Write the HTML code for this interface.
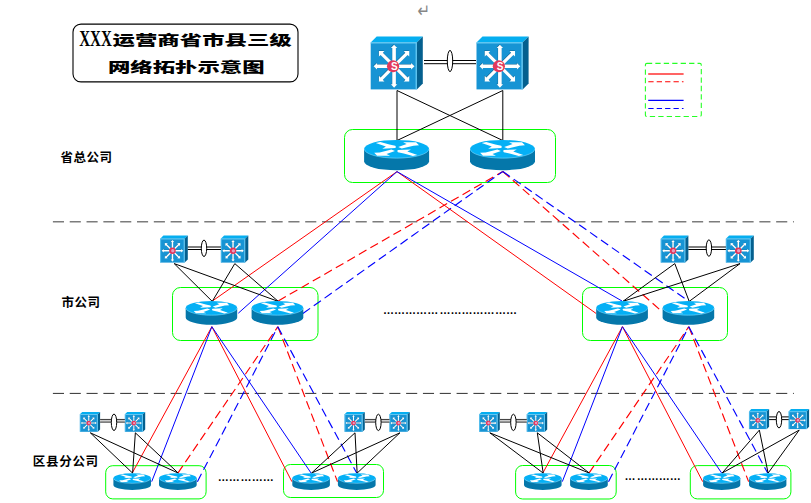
<!DOCTYPE html>
<html lang="zh">
<head>
<meta charset="utf-8">
<title>XXX运营商省市县三级网络拓扑示意图</title>
<style>
html,body{margin:0;padding:0;background:#fff;}
body{width:811px;height:503px;overflow:hidden;}
svg{display:block;}
</style>
</head>
<body>
<svg width="811" height="503" viewBox="0 0 811 503">
<rect width="811" height="503" fill="#fff"/>
<line x1="52.9" y1="221.8" x2="793.9" y2="221.8" stroke="#7c7c7c" stroke-width="1.6" stroke-dasharray="11.1 5.72"/>
<line x1="52.9" y1="393.4" x2="793.9" y2="393.4" stroke="#303030" stroke-width="1" stroke-dasharray="11.1 5.72"/>
<rect x="645.4" y="63.4" width="55.9" height="53.1" rx="1.5" fill="none" stroke="#00ff00" stroke-opacity="0.85" stroke-width="1.1" stroke-dasharray="5.3 3.14"/>
<line x1="648.2" y1="74" x2="683.6" y2="74" stroke="#ff6464" stroke-width="2"/>
<line x1="648.3" y1="81.7" x2="683.5" y2="81.7" stroke="#ff0000" stroke-width="1.1" stroke-dasharray="5.3 3.1"/>
<line x1="648.2" y1="100.4" x2="683.6" y2="100.4" stroke="#0000ff" stroke-width="1.1"/>
<line x1="648.3" y1="108.5" x2="683.5" y2="108.5" stroke="#0000ff" stroke-width="1.1" stroke-dasharray="5.3 3.1"/>
<rect x="73" y="24.1" width="225" height="57.8" rx="8" ry="8" fill="#fff" stroke="#000" stroke-width="1.1"/>
<rect x="344.5" y="129.5" width="211.0" height="53.0" rx="8" ry="8" fill="none" stroke="#00ff00" stroke-width="1"/>
<rect x="172.5" y="287.5" width="145.5" height="53.0" rx="8" ry="8" fill="none" stroke="#00ff00" stroke-width="1"/>
<rect x="582.5" y="287.5" width="145.0" height="53.0" rx="8" ry="8" fill="none" stroke="#00ff00" stroke-width="1"/>
<rect x="105.7" y="465.7" width="100.39999999999999" height="33.19999999999999" rx="7" ry="7" fill="none" stroke="#00ff00" stroke-width="1"/>
<rect x="283.5" y="464.5" width="100.0" height="33.0" rx="7" ry="7" fill="none" stroke="#00ff00" stroke-width="1"/>
<rect x="515.6" y="465.5" width="100.60000000000002" height="33.5" rx="7" ry="7" fill="none" stroke="#00ff00" stroke-width="1"/>
<rect x="690.3" y="465.6" width="100.60000000000002" height="33.299999999999955" rx="7" ry="7" fill="none" stroke="#00ff00" stroke-width="1"/>
<line x1="397" y1="171.6" x2="212.4" y2="301" stroke="#ff0000" stroke-width="1"/>
<line x1="397" y1="171.6" x2="238.3" y2="313.2" stroke="#0000ff" stroke-width="1"/>
<line x1="278.2" y1="301" x2="502.8" y2="171.5" stroke="#ff0000" stroke-width="1.15" stroke-dasharray="8.8 4.5"/>
<line x1="302.9" y1="313.5" x2="502.8" y2="171.5" stroke="#0000ff" stroke-width="1.15" stroke-dasharray="8.8 4.5"/>
<line x1="397" y1="171.6" x2="596.2" y2="313.5" stroke="#ff0000" stroke-width="1"/>
<line x1="397" y1="171.6" x2="622" y2="301" stroke="#0000ff" stroke-width="1"/>
<line x1="502.8" y1="171.5" x2="662.5" y2="312" stroke="#ff0000" stroke-width="1.15" stroke-dasharray="8.8 4.5"/>
<line x1="502.8" y1="171.5" x2="688.4" y2="301" stroke="#0000ff" stroke-width="1.15" stroke-dasharray="8.8 4.5"/>
<line x1="211.85" y1="326.7" x2="132.2" y2="473.1" stroke="#ff0000" stroke-width="1"/>
<line x1="211.85" y1="326.7" x2="151.7" y2="481.65" stroke="#0000ff" stroke-width="1"/>
<line x1="177.85" y1="473.1" x2="277.84999999999997" y2="326.7" stroke="#ff0000" stroke-width="1.15" stroke-dasharray="8.8 4.5"/>
<line x1="197.39999999999998" y1="481.65" x2="277.84999999999997" y2="326.7" stroke="#0000ff" stroke-width="1.15" stroke-dasharray="8.8 4.5"/>
<line x1="211.85" y1="326.7" x2="291.90000000000003" y2="481.65" stroke="#ff0000" stroke-width="1"/>
<line x1="211.85" y1="326.7" x2="311.1" y2="473.1" stroke="#0000ff" stroke-width="1"/>
<line x1="277.84999999999997" y1="326.7" x2="337.5" y2="481.65" stroke="#ff0000" stroke-width="1.15" stroke-dasharray="8.8 4.5"/>
<line x1="277.84999999999997" y1="326.7" x2="356.75" y2="473.1" stroke="#0000ff" stroke-width="1.15" stroke-dasharray="8.8 4.5"/>
<line x1="622.4499999999999" y1="326.7" x2="542.8" y2="473.1" stroke="#ff0000" stroke-width="1"/>
<line x1="622.4499999999999" y1="326.7" x2="562.3000000000001" y2="481.65" stroke="#0000ff" stroke-width="1"/>
<line x1="588.95" y1="473.1" x2="688.8000000000001" y2="326.7" stroke="#ff0000" stroke-width="1.15" stroke-dasharray="8.8 4.5"/>
<line x1="608.5" y1="481.65" x2="688.8000000000001" y2="326.7" stroke="#0000ff" stroke-width="1.15" stroke-dasharray="8.8 4.5"/>
<line x1="622.4499999999999" y1="326.7" x2="702.7" y2="481.65" stroke="#ff0000" stroke-width="1"/>
<line x1="622.4499999999999" y1="326.7" x2="721.7" y2="473.1" stroke="#0000ff" stroke-width="1"/>
<line x1="688.8000000000001" y1="326.7" x2="748.6" y2="481.65" stroke="#ff0000" stroke-width="1.15" stroke-dasharray="8.8 4.5"/>
<line x1="688.8000000000001" y1="326.7" x2="767.7" y2="473.1" stroke="#0000ff" stroke-width="1.15" stroke-dasharray="8.8 4.5"/>
<line x1="397" y1="90.5" x2="397" y2="140.5" stroke="#000" stroke-width="1"/>
<line x1="397" y1="90.5" x2="502.8" y2="140.5" stroke="#000" stroke-width="1"/>
<line x1="502.8" y1="90.5" x2="397" y2="140.5" stroke="#000" stroke-width="1"/>
<line x1="502.8" y1="90.5" x2="502.8" y2="140.5" stroke="#000" stroke-width="1"/>
<line x1="174.2" y1="263.6" x2="212.25" y2="301.4" stroke="#000" stroke-width="1"/>
<line x1="174.2" y1="263.6" x2="278.25" y2="301.4" stroke="#000" stroke-width="1"/>
<line x1="234.8" y1="263.6" x2="212.25" y2="301.4" stroke="#000" stroke-width="1"/>
<line x1="234.8" y1="263.6" x2="278.25" y2="301.4" stroke="#000" stroke-width="1"/>
<line x1="674.8" y1="263.6" x2="622.8499999999999" y2="301.4" stroke="#000" stroke-width="1"/>
<line x1="674.8" y1="263.6" x2="689.2" y2="301.4" stroke="#000" stroke-width="1"/>
<line x1="740.05" y1="263.6" x2="622.8499999999999" y2="301.4" stroke="#000" stroke-width="1"/>
<line x1="740.05" y1="263.6" x2="689.2" y2="301.4" stroke="#000" stroke-width="1"/>
<line x1="90.3" y1="432.8" x2="132.6" y2="473.1" stroke="#000" stroke-width="1"/>
<line x1="90.3" y1="432.8" x2="178.25" y2="473.1" stroke="#000" stroke-width="1"/>
<line x1="135.35000000000002" y1="432.8" x2="132.6" y2="473.1" stroke="#000" stroke-width="1"/>
<line x1="135.35000000000002" y1="432.8" x2="178.25" y2="473.1" stroke="#000" stroke-width="1"/>
<line x1="355.00000000000006" y1="432.8" x2="311.5" y2="473.1" stroke="#000" stroke-width="1"/>
<line x1="355.00000000000006" y1="432.8" x2="357.15" y2="473.1" stroke="#000" stroke-width="1"/>
<line x1="399.95" y1="432.8" x2="311.5" y2="473.1" stroke="#000" stroke-width="1"/>
<line x1="399.95" y1="432.8" x2="357.15" y2="473.1" stroke="#000" stroke-width="1"/>
<line x1="489.8" y1="432.8" x2="543.1999999999999" y2="473.1" stroke="#000" stroke-width="1"/>
<line x1="489.8" y1="432.8" x2="589.35" y2="473.1" stroke="#000" stroke-width="1"/>
<line x1="537.3" y1="432.8" x2="543.1999999999999" y2="473.1" stroke="#000" stroke-width="1"/>
<line x1="537.3" y1="432.8" x2="589.35" y2="473.1" stroke="#000" stroke-width="1"/>
<line x1="759.3499999999999" y1="430.1" x2="722.1" y2="473.1" stroke="#000" stroke-width="1"/>
<line x1="759.3499999999999" y1="430.1" x2="768.1" y2="473.1" stroke="#000" stroke-width="1"/>
<line x1="799.2" y1="430.1" x2="722.1" y2="473.1" stroke="#000" stroke-width="1"/>
<line x1="799.2" y1="430.1" x2="768.1" y2="473.1" stroke="#000" stroke-width="1"/>
<polygon points="370.7,42.6 376.7,36.6 422.8,36.6 416.8,42.6" fill="#05aef0"/>
<polygon points="416.8,42.6 422.8,36.6 422.8,83.4 416.8,89.4" fill="#04608f"/>
<rect x="370.7" y="42.6" width="46.10000000000002" height="46.800000000000004" fill="#1794d4"/>
<path d="M370.7,42.9 H416.2 V89.4" fill="none" stroke="#66caf4" stroke-width="1.2"/>
<path d="M0,-1.80 H17.04 V-3.21 L20.44,0 L17.04,3.21 V1.80 H0 Z" fill="#0a3e5c" fill-opacity="0.55" transform="translate(393.72,65.73) rotate(0)"/>
<path d="M0,-1.60 H17.54 V-3.91 L21.45,0 L17.54,3.91 V1.60 H0 Z" fill="#0a3e5c" fill-opacity="0.55" transform="translate(393.72,65.73) rotate(45)"/>
<path d="M0,-1.80 H18.14 V-3.21 L21.55,0 L18.14,3.21 V1.80 H0 Z" fill="#0a3e5c" fill-opacity="0.55" transform="translate(393.72,65.73) rotate(90)"/>
<path d="M0,-1.60 H17.54 V-3.91 L21.45,0 L17.54,3.91 V1.60 H0 Z" fill="#0a3e5c" fill-opacity="0.55" transform="translate(393.72,65.73) rotate(135)"/>
<path d="M0,-1.80 H17.04 V-3.21 L20.44,0 L17.04,3.21 V1.80 H0 Z" fill="#0a3e5c" fill-opacity="0.55" transform="translate(393.72,65.73) rotate(180)"/>
<path d="M0,-1.60 H17.54 V-3.91 L21.45,0 L17.54,3.91 V1.60 H0 Z" fill="#0a3e5c" fill-opacity="0.55" transform="translate(393.72,65.73) rotate(225)"/>
<path d="M0,-1.80 H18.14 V-3.21 L21.55,0 L18.14,3.21 V1.80 H0 Z" fill="#0a3e5c" fill-opacity="0.55" transform="translate(393.72,65.73) rotate(270)"/>
<path d="M0,-1.60 H17.54 V-3.91 L21.45,0 L17.54,3.91 V1.60 H0 Z" fill="#0a3e5c" fill-opacity="0.55" transform="translate(393.72,65.73) rotate(315)"/>
<path d="M0,-1.80 H17.04 V-3.21 L20.44,0 L17.04,3.21 V1.80 H0 Z" fill="#fff" transform="translate(394.07,66.23) rotate(0)"/>
<path d="M0,-1.60 H17.54 V-3.91 L21.45,0 L17.54,3.91 V1.60 H0 Z" fill="#fff" transform="translate(394.07,66.23) rotate(45)"/>
<path d="M0,-1.80 H18.14 V-3.21 L21.55,0 L18.14,3.21 V1.80 H0 Z" fill="#fff" transform="translate(394.07,66.23) rotate(90)"/>
<path d="M0,-1.60 H17.54 V-3.91 L21.45,0 L17.54,3.91 V1.60 H0 Z" fill="#fff" transform="translate(394.07,66.23) rotate(135)"/>
<path d="M0,-1.80 H17.04 V-3.21 L20.44,0 L17.04,3.21 V1.80 H0 Z" fill="#fff" transform="translate(394.07,66.23) rotate(180)"/>
<path d="M0,-1.60 H17.54 V-3.91 L21.45,0 L17.54,3.91 V1.60 H0 Z" fill="#fff" transform="translate(394.07,66.23) rotate(225)"/>
<path d="M0,-1.80 H18.14 V-3.21 L21.55,0 L18.14,3.21 V1.80 H0 Z" fill="#fff" transform="translate(394.07,66.23) rotate(270)"/>
<path d="M0,-1.60 H17.54 V-3.91 L21.45,0 L17.54,3.91 V1.60 H0 Z" fill="#fff" transform="translate(394.07,66.23) rotate(315)"/>
<circle cx="393.07" cy="66.23" r="6.10" fill="#e2395c"/>
<text x="394.27" y="69.73" font-family="'Liberation Sans',sans-serif" font-weight="bold" font-size="10" fill="#fff" text-anchor="middle">S</text>
<polygon points="476.5,42.6 482.5,36.6 528.6,36.6 522.6,42.6" fill="#05aef0"/>
<polygon points="522.6,42.6 528.6,36.6 528.6,83.4 522.6,89.4" fill="#04608f"/>
<rect x="476.5" y="42.6" width="46.10000000000002" height="46.800000000000004" fill="#1794d4"/>
<path d="M476.5,42.9 H522.0 V89.4" fill="none" stroke="#66caf4" stroke-width="1.2"/>
<path d="M0,-1.80 H17.04 V-3.21 L20.44,0 L17.04,3.21 V1.80 H0 Z" fill="#0a3e5c" fill-opacity="0.55" transform="translate(499.52,65.73) rotate(0)"/>
<path d="M0,-1.60 H17.54 V-3.91 L21.45,0 L17.54,3.91 V1.60 H0 Z" fill="#0a3e5c" fill-opacity="0.55" transform="translate(499.52,65.73) rotate(45)"/>
<path d="M0,-1.80 H18.14 V-3.21 L21.55,0 L18.14,3.21 V1.80 H0 Z" fill="#0a3e5c" fill-opacity="0.55" transform="translate(499.52,65.73) rotate(90)"/>
<path d="M0,-1.60 H17.54 V-3.91 L21.45,0 L17.54,3.91 V1.60 H0 Z" fill="#0a3e5c" fill-opacity="0.55" transform="translate(499.52,65.73) rotate(135)"/>
<path d="M0,-1.80 H17.04 V-3.21 L20.44,0 L17.04,3.21 V1.80 H0 Z" fill="#0a3e5c" fill-opacity="0.55" transform="translate(499.52,65.73) rotate(180)"/>
<path d="M0,-1.60 H17.54 V-3.91 L21.45,0 L17.54,3.91 V1.60 H0 Z" fill="#0a3e5c" fill-opacity="0.55" transform="translate(499.52,65.73) rotate(225)"/>
<path d="M0,-1.80 H18.14 V-3.21 L21.55,0 L18.14,3.21 V1.80 H0 Z" fill="#0a3e5c" fill-opacity="0.55" transform="translate(499.52,65.73) rotate(270)"/>
<path d="M0,-1.60 H17.54 V-3.91 L21.45,0 L17.54,3.91 V1.60 H0 Z" fill="#0a3e5c" fill-opacity="0.55" transform="translate(499.52,65.73) rotate(315)"/>
<path d="M0,-1.80 H17.04 V-3.21 L20.44,0 L17.04,3.21 V1.80 H0 Z" fill="#fff" transform="translate(499.87,66.23) rotate(0)"/>
<path d="M0,-1.60 H17.54 V-3.91 L21.45,0 L17.54,3.91 V1.60 H0 Z" fill="#fff" transform="translate(499.87,66.23) rotate(45)"/>
<path d="M0,-1.80 H18.14 V-3.21 L21.55,0 L18.14,3.21 V1.80 H0 Z" fill="#fff" transform="translate(499.87,66.23) rotate(90)"/>
<path d="M0,-1.60 H17.54 V-3.91 L21.45,0 L17.54,3.91 V1.60 H0 Z" fill="#fff" transform="translate(499.87,66.23) rotate(135)"/>
<path d="M0,-1.80 H17.04 V-3.21 L20.44,0 L17.04,3.21 V1.80 H0 Z" fill="#fff" transform="translate(499.87,66.23) rotate(180)"/>
<path d="M0,-1.60 H17.54 V-3.91 L21.45,0 L17.54,3.91 V1.60 H0 Z" fill="#fff" transform="translate(499.87,66.23) rotate(225)"/>
<path d="M0,-1.80 H18.14 V-3.21 L21.55,0 L18.14,3.21 V1.80 H0 Z" fill="#fff" transform="translate(499.87,66.23) rotate(270)"/>
<path d="M0,-1.60 H17.54 V-3.91 L21.45,0 L17.54,3.91 V1.60 H0 Z" fill="#fff" transform="translate(499.87,66.23) rotate(315)"/>
<circle cx="498.87" cy="66.23" r="6.10" fill="#e2395c"/>
<text x="500.07" y="69.73" font-family="'Liberation Sans',sans-serif" font-weight="bold" font-size="10" fill="#fff" text-anchor="middle">S</text>
<line x1="424" y1="60.5" x2="476" y2="60.5" stroke="#000" stroke-width="1"/>
<line x1="424" y1="63.7" x2="476" y2="63.7" stroke="#000" stroke-width="1"/>
<ellipse cx="450.0" cy="61.0" rx="2.7" ry="10.6" fill="#fff" stroke="#000" stroke-width="1"/>
<path d="M364.1,149.02 V161.18 A32.5,9.120000000000001 0 0 0 429.1,161.18 V149.02 Z" fill="#0577aa"/>
<ellipse cx="396.6" cy="149.02" rx="32.5" ry="9.120000000000001" fill="#05b0f5"/>
<path d="M364.40000000000003,149.02 A32.2,9.120000000000001 0 0 0 428.8,149.02" fill="none" stroke="#7fd6fa" stroke-width="0.6"/>
<polygon points="375.80,143.00 380.35,142.09 389.45,144.46 395.30,145.74 395.95,147.01 395.30,148.11 382.30,148.66 385.88,146.56" fill="#fff"/>
<polygon points="401.80,148.56 398.23,147.10 406.68,144.10 403.10,142.27 416.10,142.27 419.03,145.37 413.50,145.65" fill="#fff"/>
<polygon points="391.40,149.48 394.98,150.94 386.53,153.94 390.10,155.77 377.10,155.77 374.18,152.67 379.70,152.39" fill="#fff"/>
<polygon points="417.40,155.04 412.85,155.95 403.75,153.58 397.90,152.30 397.25,151.03 397.90,149.93 410.90,149.38 407.33,151.48" fill="#fff"/>
<path d="M470,149.02 V161.18 A32.5,9.120000000000001 0 0 0 535,161.18 V149.02 Z" fill="#0577aa"/>
<ellipse cx="502.5" cy="149.02" rx="32.5" ry="9.120000000000001" fill="#05b0f5"/>
<path d="M470.3,149.02 A32.2,9.120000000000001 0 0 0 534.7,149.02" fill="none" stroke="#7fd6fa" stroke-width="0.6"/>
<polygon points="481.70,143.00 486.25,142.09 495.35,144.46 501.20,145.74 501.85,147.01 501.20,148.11 488.20,148.66 491.77,146.56" fill="#fff"/>
<polygon points="507.70,148.56 504.12,147.10 512.58,144.10 509.00,142.27 522.00,142.27 524.92,145.37 519.40,145.65" fill="#fff"/>
<polygon points="497.30,149.48 500.88,150.94 492.43,153.94 496.00,155.77 483.00,155.77 480.07,152.67 485.60,152.39" fill="#fff"/>
<polygon points="523.30,155.04 518.75,155.95 509.65,153.58 503.80,152.30 503.15,151.03 503.80,149.93 516.80,149.38 513.23,151.48" fill="#fff"/>
<polygon points="160.2,238.7 163.39999999999998,235.5 187.8,235.5 184.60000000000002,238.7" fill="#05aef0"/>
<polygon points="184.60000000000002,238.7 187.8,235.5 187.8,259.40000000000003 184.60000000000002,262.6" fill="#04608f"/>
<rect x="160.2" y="238.7" width="24.400000000000034" height="23.900000000000034" fill="#1794d4"/>
<path d="M160.2,239.0 H184.15000000000003 V262.6" fill="none" stroke="#66caf4" stroke-width="0.9"/>
<path d="M160.6,262.6 V239.1" fill="none" stroke="#5cc4f2" stroke-width="0.8"/>
<path d="M0,-0.72 H8.75 V-1.75 L10.87,0 L8.75,1.75 V0.72 H0 Z" fill="#0a3e5c" fill-opacity="0.45" transform="translate(172.25,250.51) rotate(0)"/>
<path d="M0,-0.72 H8.65 V-2.02 L10.87,0 L8.65,2.02 V0.72 H0 Z" fill="#0a3e5c" fill-opacity="0.45" transform="translate(172.25,250.51) rotate(45)"/>
<path d="M0,-0.72 H8.75 V-1.75 L10.87,0 L8.75,1.75 V0.72 H0 Z" fill="#0a3e5c" fill-opacity="0.45" transform="translate(172.25,250.51) rotate(90)"/>
<path d="M0,-0.72 H8.65 V-2.02 L10.87,0 L8.65,2.02 V0.72 H0 Z" fill="#0a3e5c" fill-opacity="0.45" transform="translate(172.25,250.51) rotate(135)"/>
<path d="M0,-0.72 H8.75 V-1.75 L10.87,0 L8.75,1.75 V0.72 H0 Z" fill="#0a3e5c" fill-opacity="0.45" transform="translate(172.25,250.51) rotate(180)"/>
<path d="M0,-0.72 H8.65 V-2.02 L10.87,0 L8.65,2.02 V0.72 H0 Z" fill="#0a3e5c" fill-opacity="0.45" transform="translate(172.25,250.51) rotate(225)"/>
<path d="M0,-0.72 H8.75 V-1.75 L10.87,0 L8.75,1.75 V0.72 H0 Z" fill="#0a3e5c" fill-opacity="0.45" transform="translate(172.25,250.51) rotate(270)"/>
<path d="M0,-0.72 H8.65 V-2.02 L10.87,0 L8.65,2.02 V0.72 H0 Z" fill="#0a3e5c" fill-opacity="0.45" transform="translate(172.25,250.51) rotate(315)"/>
<path d="M0,-0.72 H8.75 V-1.75 L10.87,0 L8.75,1.75 V0.72 H0 Z" fill="#fff" transform="translate(172.44,250.77) rotate(0)"/>
<path d="M0,-0.72 H8.65 V-2.02 L10.87,0 L8.65,2.02 V0.72 H0 Z" fill="#fff" transform="translate(172.44,250.77) rotate(45)"/>
<path d="M0,-0.72 H8.75 V-1.75 L10.87,0 L8.75,1.75 V0.72 H0 Z" fill="#fff" transform="translate(172.44,250.77) rotate(90)"/>
<path d="M0,-0.72 H8.65 V-2.02 L10.87,0 L8.65,2.02 V0.72 H0 Z" fill="#fff" transform="translate(172.44,250.77) rotate(135)"/>
<path d="M0,-0.72 H8.75 V-1.75 L10.87,0 L8.75,1.75 V0.72 H0 Z" fill="#fff" transform="translate(172.44,250.77) rotate(180)"/>
<path d="M0,-0.72 H8.65 V-2.02 L10.87,0 L8.65,2.02 V0.72 H0 Z" fill="#fff" transform="translate(172.44,250.77) rotate(225)"/>
<path d="M0,-0.72 H8.75 V-1.75 L10.87,0 L8.75,1.75 V0.72 H0 Z" fill="#fff" transform="translate(172.44,250.77) rotate(270)"/>
<path d="M0,-0.72 H8.65 V-2.02 L10.87,0 L8.65,2.02 V0.72 H0 Z" fill="#fff" transform="translate(172.44,250.77) rotate(315)"/>
<circle cx="172.44" cy="250.77" r="3.29" fill="#e2355a"/>
<circle cx="172.79" cy="250.77" r="1.65" fill="#e79ac0"/>
<polygon points="220.9,238.7 224.1,235.5 248.3,235.5 245.10000000000002,238.7" fill="#05aef0"/>
<polygon points="245.10000000000002,238.7 248.3,235.5 248.3,259.40000000000003 245.10000000000002,262.6" fill="#04608f"/>
<rect x="220.9" y="238.7" width="24.200000000000017" height="23.900000000000034" fill="#1794d4"/>
<path d="M220.9,239.0 H244.65000000000003 V262.6" fill="none" stroke="#66caf4" stroke-width="0.9"/>
<path d="M221.3,262.6 V239.1" fill="none" stroke="#5cc4f2" stroke-width="0.8"/>
<path d="M0,-0.71 H8.68 V-1.74 L10.78,0 L8.68,1.74 V0.71 H0 Z" fill="#0a3e5c" fill-opacity="0.45" transform="translate(232.85,250.51) rotate(0)"/>
<path d="M0,-0.71 H8.58 V-2.00 L10.78,0 L8.58,2.00 V0.71 H0 Z" fill="#0a3e5c" fill-opacity="0.45" transform="translate(232.85,250.51) rotate(45)"/>
<path d="M0,-0.71 H8.68 V-1.74 L10.78,0 L8.68,1.74 V0.71 H0 Z" fill="#0a3e5c" fill-opacity="0.45" transform="translate(232.85,250.51) rotate(90)"/>
<path d="M0,-0.71 H8.58 V-2.00 L10.78,0 L8.58,2.00 V0.71 H0 Z" fill="#0a3e5c" fill-opacity="0.45" transform="translate(232.85,250.51) rotate(135)"/>
<path d="M0,-0.71 H8.68 V-1.74 L10.78,0 L8.68,1.74 V0.71 H0 Z" fill="#0a3e5c" fill-opacity="0.45" transform="translate(232.85,250.51) rotate(180)"/>
<path d="M0,-0.71 H8.58 V-2.00 L10.78,0 L8.58,2.00 V0.71 H0 Z" fill="#0a3e5c" fill-opacity="0.45" transform="translate(232.85,250.51) rotate(225)"/>
<path d="M0,-0.71 H8.68 V-1.74 L10.78,0 L8.68,1.74 V0.71 H0 Z" fill="#0a3e5c" fill-opacity="0.45" transform="translate(232.85,250.51) rotate(270)"/>
<path d="M0,-0.71 H8.58 V-2.00 L10.78,0 L8.58,2.00 V0.71 H0 Z" fill="#0a3e5c" fill-opacity="0.45" transform="translate(232.85,250.51) rotate(315)"/>
<path d="M0,-0.71 H8.68 V-1.74 L10.78,0 L8.68,1.74 V0.71 H0 Z" fill="#fff" transform="translate(233.03,250.77) rotate(0)"/>
<path d="M0,-0.71 H8.58 V-2.00 L10.78,0 L8.58,2.00 V0.71 H0 Z" fill="#fff" transform="translate(233.03,250.77) rotate(45)"/>
<path d="M0,-0.71 H8.68 V-1.74 L10.78,0 L8.68,1.74 V0.71 H0 Z" fill="#fff" transform="translate(233.03,250.77) rotate(90)"/>
<path d="M0,-0.71 H8.58 V-2.00 L10.78,0 L8.58,2.00 V0.71 H0 Z" fill="#fff" transform="translate(233.03,250.77) rotate(135)"/>
<path d="M0,-0.71 H8.68 V-1.74 L10.78,0 L8.68,1.74 V0.71 H0 Z" fill="#fff" transform="translate(233.03,250.77) rotate(180)"/>
<path d="M0,-0.71 H8.58 V-2.00 L10.78,0 L8.58,2.00 V0.71 H0 Z" fill="#fff" transform="translate(233.03,250.77) rotate(225)"/>
<path d="M0,-0.71 H8.68 V-1.74 L10.78,0 L8.68,1.74 V0.71 H0 Z" fill="#fff" transform="translate(233.03,250.77) rotate(270)"/>
<path d="M0,-0.71 H8.58 V-2.00 L10.78,0 L8.58,2.00 V0.71 H0 Z" fill="#fff" transform="translate(233.03,250.77) rotate(315)"/>
<circle cx="233.03" cy="250.77" r="3.27" fill="#e2355a"/>
<circle cx="233.38" cy="250.77" r="1.63" fill="#e79ac0"/>
<line x1="187.8" y1="247.0" x2="220.9" y2="247.0" stroke="#000" stroke-width="1"/>
<line x1="187.8" y1="249.5" x2="220.9" y2="249.5" stroke="#000" stroke-width="1"/>
<ellipse cx="204.0" cy="248.3" rx="2.7" ry="8.2" fill="#fff" stroke="#000" stroke-width="1"/>
<path d="M185.7,308.03999999999996 V317.56 A25.75,7.140000000000003 0 0 0 237.2,317.56 V308.03999999999996 Z" fill="#0577aa"/>
<ellipse cx="211.45" cy="308.03999999999996" rx="25.75" ry="7.140000000000003" fill="#05b0f5"/>
<path d="M186.0,308.03999999999996 A25.45,7.140000000000003 0 0 0 236.89999999999998,308.03999999999996" fill="none" stroke="#7fd6fa" stroke-width="0.6"/>
<polygon points="194.97,303.33 198.57,302.61 205.78,304.47 210.42,305.47 210.94,306.47 210.42,307.33 200.12,307.75 202.95,306.11" fill="#fff"/>
<polygon points="215.57,307.68 212.74,306.54 219.43,304.18 216.60,302.76 226.90,302.76 229.22,305.18 224.84,305.40" fill="#fff"/>
<polygon points="207.33,308.40 210.16,309.54 203.47,311.90 206.30,313.32 196.00,313.32 193.68,310.90 198.06,310.68" fill="#fff"/>
<polygon points="227.93,312.75 224.32,313.47 217.11,311.61 212.48,310.61 211.96,309.61 212.48,308.75 222.78,308.33 219.95,309.97" fill="#fff"/>
<path d="M251.6,308.03999999999996 V317.56 A25.85000000000001,7.140000000000003 0 0 0 303.3,317.56 V308.03999999999996 Z" fill="#0577aa"/>
<ellipse cx="277.45" cy="308.03999999999996" rx="25.85000000000001" ry="7.140000000000003" fill="#05b0f5"/>
<path d="M251.9,308.03999999999996 A25.550000000000008,7.140000000000003 0 0 0 303.0,308.03999999999996" fill="none" stroke="#7fd6fa" stroke-width="0.6"/>
<polygon points="260.91,303.33 264.52,302.61 271.76,304.47 276.42,305.47 276.93,306.47 276.42,307.33 266.08,307.75 268.92,306.11" fill="#fff"/>
<polygon points="281.59,307.68 278.74,306.54 285.46,304.18 282.62,302.76 292.96,302.76 295.29,305.18 290.89,305.40" fill="#fff"/>
<polygon points="273.31,308.40 276.16,309.54 269.44,311.90 272.28,313.32 261.94,313.32 259.61,310.90 264.01,310.68" fill="#fff"/>
<polygon points="293.99,312.75 290.38,313.47 283.14,311.61 278.48,310.61 277.97,309.61 278.48,308.75 288.82,308.33 285.98,309.97" fill="#fff"/>
<polygon points="660.8,238.7 664.0,235.5 688.4,235.5 685.1999999999999,238.7" fill="#05aef0"/>
<polygon points="685.1999999999999,238.7 688.4,235.5 688.4,259.40000000000003 685.1999999999999,262.6" fill="#04608f"/>
<rect x="660.8" y="238.7" width="24.399999999999977" height="23.900000000000034" fill="#1794d4"/>
<path d="M660.8,239.0 H684.7499999999999 V262.6" fill="none" stroke="#66caf4" stroke-width="0.9"/>
<path d="M661.1999999999999,262.6 V239.1" fill="none" stroke="#5cc4f2" stroke-width="0.8"/>
<path d="M0,-0.72 H8.75 V-1.75 L10.87,0 L8.75,1.75 V0.72 H0 Z" fill="#0a3e5c" fill-opacity="0.45" transform="translate(672.85,250.51) rotate(0)"/>
<path d="M0,-0.72 H8.65 V-2.02 L10.87,0 L8.65,2.02 V0.72 H0 Z" fill="#0a3e5c" fill-opacity="0.45" transform="translate(672.85,250.51) rotate(45)"/>
<path d="M0,-0.72 H8.75 V-1.75 L10.87,0 L8.75,1.75 V0.72 H0 Z" fill="#0a3e5c" fill-opacity="0.45" transform="translate(672.85,250.51) rotate(90)"/>
<path d="M0,-0.72 H8.65 V-2.02 L10.87,0 L8.65,2.02 V0.72 H0 Z" fill="#0a3e5c" fill-opacity="0.45" transform="translate(672.85,250.51) rotate(135)"/>
<path d="M0,-0.72 H8.75 V-1.75 L10.87,0 L8.75,1.75 V0.72 H0 Z" fill="#0a3e5c" fill-opacity="0.45" transform="translate(672.85,250.51) rotate(180)"/>
<path d="M0,-0.72 H8.65 V-2.02 L10.87,0 L8.65,2.02 V0.72 H0 Z" fill="#0a3e5c" fill-opacity="0.45" transform="translate(672.85,250.51) rotate(225)"/>
<path d="M0,-0.72 H8.75 V-1.75 L10.87,0 L8.75,1.75 V0.72 H0 Z" fill="#0a3e5c" fill-opacity="0.45" transform="translate(672.85,250.51) rotate(270)"/>
<path d="M0,-0.72 H8.65 V-2.02 L10.87,0 L8.65,2.02 V0.72 H0 Z" fill="#0a3e5c" fill-opacity="0.45" transform="translate(672.85,250.51) rotate(315)"/>
<path d="M0,-0.72 H8.75 V-1.75 L10.87,0 L8.75,1.75 V0.72 H0 Z" fill="#fff" transform="translate(673.04,250.77) rotate(0)"/>
<path d="M0,-0.72 H8.65 V-2.02 L10.87,0 L8.65,2.02 V0.72 H0 Z" fill="#fff" transform="translate(673.04,250.77) rotate(45)"/>
<path d="M0,-0.72 H8.75 V-1.75 L10.87,0 L8.75,1.75 V0.72 H0 Z" fill="#fff" transform="translate(673.04,250.77) rotate(90)"/>
<path d="M0,-0.72 H8.65 V-2.02 L10.87,0 L8.65,2.02 V0.72 H0 Z" fill="#fff" transform="translate(673.04,250.77) rotate(135)"/>
<path d="M0,-0.72 H8.75 V-1.75 L10.87,0 L8.75,1.75 V0.72 H0 Z" fill="#fff" transform="translate(673.04,250.77) rotate(180)"/>
<path d="M0,-0.72 H8.65 V-2.02 L10.87,0 L8.65,2.02 V0.72 H0 Z" fill="#fff" transform="translate(673.04,250.77) rotate(225)"/>
<path d="M0,-0.72 H8.75 V-1.75 L10.87,0 L8.75,1.75 V0.72 H0 Z" fill="#fff" transform="translate(673.04,250.77) rotate(270)"/>
<path d="M0,-0.72 H8.65 V-2.02 L10.87,0 L8.65,2.02 V0.72 H0 Z" fill="#fff" transform="translate(673.04,250.77) rotate(315)"/>
<circle cx="673.04" cy="250.77" r="3.29" fill="#e2355a"/>
<circle cx="673.39" cy="250.77" r="1.65" fill="#e79ac0"/>
<polygon points="725.9,238.7 729.1,235.5 753.8,235.5 750.5999999999999,238.7" fill="#05aef0"/>
<polygon points="750.5999999999999,238.7 753.8,235.5 753.8,259.40000000000003 750.5999999999999,262.6" fill="#04608f"/>
<rect x="725.9" y="238.7" width="24.699999999999932" height="23.900000000000034" fill="#1794d4"/>
<path d="M725.9,239.0 H750.1499999999999 V262.6" fill="none" stroke="#66caf4" stroke-width="0.9"/>
<path d="M726.3,262.6 V239.1" fill="none" stroke="#5cc4f2" stroke-width="0.8"/>
<path d="M0,-0.72 H8.86 V-1.77 L11.01,0 L8.86,1.77 V0.72 H0 Z" fill="#0a3e5c" fill-opacity="0.45" transform="translate(738.11,250.51) rotate(0)"/>
<path d="M0,-0.72 H8.75 V-2.04 L11.01,0 L8.75,2.04 V0.72 H0 Z" fill="#0a3e5c" fill-opacity="0.45" transform="translate(738.11,250.51) rotate(45)"/>
<path d="M0,-0.72 H8.86 V-1.77 L11.01,0 L8.86,1.77 V0.72 H0 Z" fill="#0a3e5c" fill-opacity="0.45" transform="translate(738.11,250.51) rotate(90)"/>
<path d="M0,-0.72 H8.75 V-2.04 L11.01,0 L8.75,2.04 V0.72 H0 Z" fill="#0a3e5c" fill-opacity="0.45" transform="translate(738.11,250.51) rotate(135)"/>
<path d="M0,-0.72 H8.86 V-1.77 L11.01,0 L8.86,1.77 V0.72 H0 Z" fill="#0a3e5c" fill-opacity="0.45" transform="translate(738.11,250.51) rotate(180)"/>
<path d="M0,-0.72 H8.75 V-2.04 L11.01,0 L8.75,2.04 V0.72 H0 Z" fill="#0a3e5c" fill-opacity="0.45" transform="translate(738.11,250.51) rotate(225)"/>
<path d="M0,-0.72 H8.86 V-1.77 L11.01,0 L8.86,1.77 V0.72 H0 Z" fill="#0a3e5c" fill-opacity="0.45" transform="translate(738.11,250.51) rotate(270)"/>
<path d="M0,-0.72 H8.75 V-2.04 L11.01,0 L8.75,2.04 V0.72 H0 Z" fill="#0a3e5c" fill-opacity="0.45" transform="translate(738.11,250.51) rotate(315)"/>
<path d="M0,-0.72 H8.86 V-1.77 L11.01,0 L8.86,1.77 V0.72 H0 Z" fill="#fff" transform="translate(738.29,250.77) rotate(0)"/>
<path d="M0,-0.72 H8.75 V-2.04 L11.01,0 L8.75,2.04 V0.72 H0 Z" fill="#fff" transform="translate(738.29,250.77) rotate(45)"/>
<path d="M0,-0.72 H8.86 V-1.77 L11.01,0 L8.86,1.77 V0.72 H0 Z" fill="#fff" transform="translate(738.29,250.77) rotate(90)"/>
<path d="M0,-0.72 H8.75 V-2.04 L11.01,0 L8.75,2.04 V0.72 H0 Z" fill="#fff" transform="translate(738.29,250.77) rotate(135)"/>
<path d="M0,-0.72 H8.86 V-1.77 L11.01,0 L8.86,1.77 V0.72 H0 Z" fill="#fff" transform="translate(738.29,250.77) rotate(180)"/>
<path d="M0,-0.72 H8.75 V-2.04 L11.01,0 L8.75,2.04 V0.72 H0 Z" fill="#fff" transform="translate(738.29,250.77) rotate(225)"/>
<path d="M0,-0.72 H8.86 V-1.77 L11.01,0 L8.86,1.77 V0.72 H0 Z" fill="#fff" transform="translate(738.29,250.77) rotate(270)"/>
<path d="M0,-0.72 H8.75 V-2.04 L11.01,0 L8.75,2.04 V0.72 H0 Z" fill="#fff" transform="translate(738.29,250.77) rotate(315)"/>
<circle cx="738.29" cy="250.77" r="3.33" fill="#e2355a"/>
<circle cx="738.64" cy="250.77" r="1.67" fill="#e79ac0"/>
<line x1="688.4" y1="247.0" x2="725.9" y2="247.0" stroke="#000" stroke-width="1"/>
<line x1="688.4" y1="249.5" x2="725.9" y2="249.5" stroke="#000" stroke-width="1"/>
<ellipse cx="708.9" cy="248.05" rx="2.7" ry="8.2" fill="#fff" stroke="#000" stroke-width="1"/>
<path d="M596.2,308.03999999999996 V317.56 A25.849999999999966,7.140000000000003 0 0 0 647.9,317.56 V308.03999999999996 Z" fill="#0577aa"/>
<ellipse cx="622.05" cy="308.03999999999996" rx="25.849999999999966" ry="7.140000000000003" fill="#05b0f5"/>
<path d="M596.5,308.03999999999996 A25.549999999999965,7.140000000000003 0 0 0 647.6,308.03999999999996" fill="none" stroke="#7fd6fa" stroke-width="0.6"/>
<polygon points="605.51,303.33 609.12,302.61 616.36,304.47 621.02,305.47 621.53,306.47 621.02,307.33 610.68,307.75 613.52,306.11" fill="#fff"/>
<polygon points="626.19,307.68 623.34,306.54 630.06,304.18 627.22,302.76 637.56,302.76 639.89,305.18 635.49,305.40" fill="#fff"/>
<polygon points="617.91,308.40 620.76,309.54 614.04,311.90 616.88,313.32 606.54,313.32 604.21,310.90 608.61,310.68" fill="#fff"/>
<polygon points="638.59,312.75 634.97,313.47 627.74,311.61 623.08,310.61 622.57,309.61 623.08,308.75 633.42,308.33 630.58,309.97" fill="#fff"/>
<path d="M662.6,308.03999999999996 V317.56 A25.80000000000001,7.140000000000003 0 0 0 714.2,317.56 V308.03999999999996 Z" fill="#0577aa"/>
<ellipse cx="688.4000000000001" cy="308.03999999999996" rx="25.80000000000001" ry="7.140000000000003" fill="#05b0f5"/>
<path d="M662.9,308.03999999999996 A25.50000000000001,7.140000000000003 0 0 0 713.9000000000001,308.03999999999996" fill="none" stroke="#7fd6fa" stroke-width="0.6"/>
<polygon points="671.89,303.33 675.50,302.61 682.72,304.47 687.37,305.47 687.88,306.47 687.37,307.33 677.05,307.75 679.89,306.11" fill="#fff"/>
<polygon points="692.53,307.68 689.69,306.54 696.40,304.18 693.56,302.76 703.88,302.76 706.20,305.18 701.82,305.40" fill="#fff"/>
<polygon points="684.27,308.40 687.11,309.54 680.40,311.90 683.24,313.32 672.92,313.32 670.60,310.90 674.98,310.68" fill="#fff"/>
<polygon points="704.91,312.75 701.30,313.47 694.08,311.61 689.43,310.61 688.92,309.61 689.43,308.75 699.75,308.33 696.91,309.97" fill="#fff"/>
<polygon points="79.9,414.2 82.2,411.9 100.1,411.9 97.8,414.2" fill="#05aef0"/>
<polygon points="97.8,414.2 100.1,411.9 100.1,429.5 97.8,431.8" fill="#04608f"/>
<rect x="79.9" y="414.2" width="17.89999999999999" height="17.600000000000023" fill="#1794d4"/>
<path d="M79.9,414.5 H97.35 V431.8" fill="none" stroke="#66caf4" stroke-width="0.9"/>
<path d="M80.30000000000001,431.8 V414.59999999999997" fill="none" stroke="#5cc4f2" stroke-width="0.8"/>
<path d="M0,-0.53 H6.42 V-1.28 L7.98,0 L6.42,1.28 V0.53 H0 Z" fill="#0a3e5c" fill-opacity="0.45" transform="translate(88.62,422.89) rotate(0)"/>
<path d="M0,-0.53 H6.34 V-1.48 L7.98,0 L6.34,1.48 V0.53 H0 Z" fill="#0a3e5c" fill-opacity="0.45" transform="translate(88.62,422.89) rotate(45)"/>
<path d="M0,-0.53 H6.42 V-1.28 L7.98,0 L6.42,1.28 V0.53 H0 Z" fill="#0a3e5c" fill-opacity="0.45" transform="translate(88.62,422.89) rotate(90)"/>
<path d="M0,-0.53 H6.34 V-1.48 L7.98,0 L6.34,1.48 V0.53 H0 Z" fill="#0a3e5c" fill-opacity="0.45" transform="translate(88.62,422.89) rotate(135)"/>
<path d="M0,-0.53 H6.42 V-1.28 L7.98,0 L6.42,1.28 V0.53 H0 Z" fill="#0a3e5c" fill-opacity="0.45" transform="translate(88.62,422.89) rotate(180)"/>
<path d="M0,-0.53 H6.34 V-1.48 L7.98,0 L6.34,1.48 V0.53 H0 Z" fill="#0a3e5c" fill-opacity="0.45" transform="translate(88.62,422.89) rotate(225)"/>
<path d="M0,-0.53 H6.42 V-1.28 L7.98,0 L6.42,1.28 V0.53 H0 Z" fill="#0a3e5c" fill-opacity="0.45" transform="translate(88.62,422.89) rotate(270)"/>
<path d="M0,-0.53 H6.34 V-1.48 L7.98,0 L6.34,1.48 V0.53 H0 Z" fill="#0a3e5c" fill-opacity="0.45" transform="translate(88.62,422.89) rotate(315)"/>
<path d="M0,-0.53 H6.42 V-1.28 L7.98,0 L6.42,1.28 V0.53 H0 Z" fill="#fff" transform="translate(88.76,423.09) rotate(0)"/>
<path d="M0,-0.53 H6.34 V-1.48 L7.98,0 L6.34,1.48 V0.53 H0 Z" fill="#fff" transform="translate(88.76,423.09) rotate(45)"/>
<path d="M0,-0.53 H6.42 V-1.28 L7.98,0 L6.42,1.28 V0.53 H0 Z" fill="#fff" transform="translate(88.76,423.09) rotate(90)"/>
<path d="M0,-0.53 H6.34 V-1.48 L7.98,0 L6.34,1.48 V0.53 H0 Z" fill="#fff" transform="translate(88.76,423.09) rotate(135)"/>
<path d="M0,-0.53 H6.42 V-1.28 L7.98,0 L6.42,1.28 V0.53 H0 Z" fill="#fff" transform="translate(88.76,423.09) rotate(180)"/>
<path d="M0,-0.53 H6.34 V-1.48 L7.98,0 L6.34,1.48 V0.53 H0 Z" fill="#fff" transform="translate(88.76,423.09) rotate(225)"/>
<path d="M0,-0.53 H6.42 V-1.28 L7.98,0 L6.42,1.28 V0.53 H0 Z" fill="#fff" transform="translate(88.76,423.09) rotate(270)"/>
<path d="M0,-0.53 H6.34 V-1.48 L7.98,0 L6.34,1.48 V0.53 H0 Z" fill="#fff" transform="translate(88.76,423.09) rotate(315)"/>
<circle cx="88.76" cy="423.09" r="2.42" fill="#e2355a"/>
<circle cx="89.11" cy="423.09" r="1.21" fill="#e79ac0"/>
<polygon points="124.9,414.2 127.2,411.9 145.2,411.9 142.89999999999998,414.2" fill="#05aef0"/>
<polygon points="142.89999999999998,414.2 145.2,411.9 145.2,429.5 142.89999999999998,431.8" fill="#04608f"/>
<rect x="124.9" y="414.2" width="17.99999999999997" height="17.600000000000023" fill="#1794d4"/>
<path d="M124.9,414.5 H142.45 V431.8" fill="none" stroke="#66caf4" stroke-width="0.9"/>
<path d="M125.30000000000001,431.8 V414.59999999999997" fill="none" stroke="#5cc4f2" stroke-width="0.8"/>
<path d="M0,-0.53 H6.46 V-1.29 L8.02,0 L6.46,1.29 V0.53 H0 Z" fill="#0a3e5c" fill-opacity="0.45" transform="translate(133.67,422.89) rotate(0)"/>
<path d="M0,-0.53 H6.38 V-1.49 L8.02,0 L6.38,1.49 V0.53 H0 Z" fill="#0a3e5c" fill-opacity="0.45" transform="translate(133.67,422.89) rotate(45)"/>
<path d="M0,-0.53 H6.46 V-1.29 L8.02,0 L6.46,1.29 V0.53 H0 Z" fill="#0a3e5c" fill-opacity="0.45" transform="translate(133.67,422.89) rotate(90)"/>
<path d="M0,-0.53 H6.38 V-1.49 L8.02,0 L6.38,1.49 V0.53 H0 Z" fill="#0a3e5c" fill-opacity="0.45" transform="translate(133.67,422.89) rotate(135)"/>
<path d="M0,-0.53 H6.46 V-1.29 L8.02,0 L6.46,1.29 V0.53 H0 Z" fill="#0a3e5c" fill-opacity="0.45" transform="translate(133.67,422.89) rotate(180)"/>
<path d="M0,-0.53 H6.38 V-1.49 L8.02,0 L6.38,1.49 V0.53 H0 Z" fill="#0a3e5c" fill-opacity="0.45" transform="translate(133.67,422.89) rotate(225)"/>
<path d="M0,-0.53 H6.46 V-1.29 L8.02,0 L6.46,1.29 V0.53 H0 Z" fill="#0a3e5c" fill-opacity="0.45" transform="translate(133.67,422.89) rotate(270)"/>
<path d="M0,-0.53 H6.38 V-1.49 L8.02,0 L6.38,1.49 V0.53 H0 Z" fill="#0a3e5c" fill-opacity="0.45" transform="translate(133.67,422.89) rotate(315)"/>
<path d="M0,-0.53 H6.46 V-1.29 L8.02,0 L6.46,1.29 V0.53 H0 Z" fill="#fff" transform="translate(133.81,423.09) rotate(0)"/>
<path d="M0,-0.53 H6.38 V-1.49 L8.02,0 L6.38,1.49 V0.53 H0 Z" fill="#fff" transform="translate(133.81,423.09) rotate(45)"/>
<path d="M0,-0.53 H6.46 V-1.29 L8.02,0 L6.46,1.29 V0.53 H0 Z" fill="#fff" transform="translate(133.81,423.09) rotate(90)"/>
<path d="M0,-0.53 H6.38 V-1.49 L8.02,0 L6.38,1.49 V0.53 H0 Z" fill="#fff" transform="translate(133.81,423.09) rotate(135)"/>
<path d="M0,-0.53 H6.46 V-1.29 L8.02,0 L6.46,1.29 V0.53 H0 Z" fill="#fff" transform="translate(133.81,423.09) rotate(180)"/>
<path d="M0,-0.53 H6.38 V-1.49 L8.02,0 L6.38,1.49 V0.53 H0 Z" fill="#fff" transform="translate(133.81,423.09) rotate(225)"/>
<path d="M0,-0.53 H6.46 V-1.29 L8.02,0 L6.46,1.29 V0.53 H0 Z" fill="#fff" transform="translate(133.81,423.09) rotate(270)"/>
<path d="M0,-0.53 H6.38 V-1.49 L8.02,0 L6.38,1.49 V0.53 H0 Z" fill="#fff" transform="translate(133.81,423.09) rotate(315)"/>
<circle cx="133.81" cy="423.09" r="2.43" fill="#e2355a"/>
<circle cx="134.16" cy="423.09" r="1.21" fill="#e79ac0"/>
<rect x="100.1" y="419.45" width="24.80000000000001" height="2.7" fill="#cccccc"/>
<line x1="100.1" y1="419.45" x2="124.9" y2="419.45" stroke="#3a3a3a" stroke-width="1"/>
<line x1="100.1" y1="422.15000000000003" x2="124.9" y2="422.15000000000003" stroke="#3a3a3a" stroke-width="1"/>
<ellipse cx="114.0" cy="422.3" rx="2.7" ry="8.2" fill="#fff" stroke="#000" stroke-width="1"/>
<path d="M113.4,478.31 V484.99 A18.799999999999997,5.009999999999996 0 0 0 151.0,484.99 V478.31 Z" fill="#0577aa"/>
<ellipse cx="132.2" cy="478.31" rx="18.799999999999997" ry="5.009999999999996" fill="#05b0f5"/>
<path d="M113.7,478.31 A18.499999999999996,5.009999999999996 0 0 0 150.7,478.31" fill="none" stroke="#7fd6fa" stroke-width="0.6"/>
<polygon points="120.17,475.00 122.80,474.50 128.06,475.81 131.45,476.51 131.82,477.21 131.45,477.81 123.93,478.11 126.00,476.96" fill="#fff"/>
<polygon points="135.21,478.06 133.14,477.26 138.03,475.60 135.96,474.60 143.48,474.60 145.17,476.31 141.98,476.46" fill="#fff"/>
<polygon points="129.19,478.56 131.26,479.36 126.37,481.02 128.44,482.02 120.92,482.02 119.23,480.31 122.42,480.16" fill="#fff"/>
<polygon points="144.23,481.62 141.60,482.12 136.34,480.81 132.95,480.11 132.58,479.41 132.95,478.81 140.47,478.51 138.40,479.66" fill="#fff"/>
<path d="M159.0,478.31 V484.99 A18.849999999999994,5.009999999999996 0 0 0 196.7,484.99 V478.31 Z" fill="#0577aa"/>
<ellipse cx="177.85" cy="478.31" rx="18.849999999999994" ry="5.009999999999996" fill="#05b0f5"/>
<path d="M159.3,478.31 A18.549999999999994,5.009999999999996 0 0 0 196.39999999999998,478.31" fill="none" stroke="#7fd6fa" stroke-width="0.6"/>
<polygon points="165.79,475.00 168.43,474.50 173.70,475.81 177.10,476.51 177.47,477.21 177.10,477.81 169.56,478.11 171.63,476.96" fill="#fff"/>
<polygon points="180.87,478.06 178.79,477.26 183.69,475.60 181.62,474.60 189.16,474.60 190.86,476.31 187.65,476.46" fill="#fff"/>
<polygon points="174.83,478.56 176.91,479.36 172.01,481.02 174.08,482.02 166.54,482.02 164.84,480.31 168.05,480.16" fill="#fff"/>
<polygon points="189.91,481.62 187.27,482.12 182.00,480.81 178.60,480.11 178.23,479.41 178.60,478.81 186.14,478.51 184.07,479.66" fill="#fff"/>
<polygon points="344.6,414.2 346.90000000000003,411.9 364.8,411.9 362.5,414.2" fill="#05aef0"/>
<polygon points="362.5,414.2 364.8,411.9 364.8,429.5 362.5,431.8" fill="#04608f"/>
<rect x="344.6" y="414.2" width="17.899999999999977" height="17.600000000000023" fill="#1794d4"/>
<path d="M344.6,414.5 H362.05 V431.8" fill="none" stroke="#66caf4" stroke-width="0.9"/>
<path d="M345.0,431.8 V414.59999999999997" fill="none" stroke="#5cc4f2" stroke-width="0.8"/>
<path d="M0,-0.53 H6.42 V-1.28 L7.98,0 L6.42,1.28 V0.53 H0 Z" fill="#0a3e5c" fill-opacity="0.45" transform="translate(353.32,422.89) rotate(0)"/>
<path d="M0,-0.53 H6.34 V-1.48 L7.98,0 L6.34,1.48 V0.53 H0 Z" fill="#0a3e5c" fill-opacity="0.45" transform="translate(353.32,422.89) rotate(45)"/>
<path d="M0,-0.53 H6.42 V-1.28 L7.98,0 L6.42,1.28 V0.53 H0 Z" fill="#0a3e5c" fill-opacity="0.45" transform="translate(353.32,422.89) rotate(90)"/>
<path d="M0,-0.53 H6.34 V-1.48 L7.98,0 L6.34,1.48 V0.53 H0 Z" fill="#0a3e5c" fill-opacity="0.45" transform="translate(353.32,422.89) rotate(135)"/>
<path d="M0,-0.53 H6.42 V-1.28 L7.98,0 L6.42,1.28 V0.53 H0 Z" fill="#0a3e5c" fill-opacity="0.45" transform="translate(353.32,422.89) rotate(180)"/>
<path d="M0,-0.53 H6.34 V-1.48 L7.98,0 L6.34,1.48 V0.53 H0 Z" fill="#0a3e5c" fill-opacity="0.45" transform="translate(353.32,422.89) rotate(225)"/>
<path d="M0,-0.53 H6.42 V-1.28 L7.98,0 L6.42,1.28 V0.53 H0 Z" fill="#0a3e5c" fill-opacity="0.45" transform="translate(353.32,422.89) rotate(270)"/>
<path d="M0,-0.53 H6.34 V-1.48 L7.98,0 L6.34,1.48 V0.53 H0 Z" fill="#0a3e5c" fill-opacity="0.45" transform="translate(353.32,422.89) rotate(315)"/>
<path d="M0,-0.53 H6.42 V-1.28 L7.98,0 L6.42,1.28 V0.53 H0 Z" fill="#fff" transform="translate(353.46,423.09) rotate(0)"/>
<path d="M0,-0.53 H6.34 V-1.48 L7.98,0 L6.34,1.48 V0.53 H0 Z" fill="#fff" transform="translate(353.46,423.09) rotate(45)"/>
<path d="M0,-0.53 H6.42 V-1.28 L7.98,0 L6.42,1.28 V0.53 H0 Z" fill="#fff" transform="translate(353.46,423.09) rotate(90)"/>
<path d="M0,-0.53 H6.34 V-1.48 L7.98,0 L6.34,1.48 V0.53 H0 Z" fill="#fff" transform="translate(353.46,423.09) rotate(135)"/>
<path d="M0,-0.53 H6.42 V-1.28 L7.98,0 L6.42,1.28 V0.53 H0 Z" fill="#fff" transform="translate(353.46,423.09) rotate(180)"/>
<path d="M0,-0.53 H6.34 V-1.48 L7.98,0 L6.34,1.48 V0.53 H0 Z" fill="#fff" transform="translate(353.46,423.09) rotate(225)"/>
<path d="M0,-0.53 H6.42 V-1.28 L7.98,0 L6.42,1.28 V0.53 H0 Z" fill="#fff" transform="translate(353.46,423.09) rotate(270)"/>
<path d="M0,-0.53 H6.34 V-1.48 L7.98,0 L6.34,1.48 V0.53 H0 Z" fill="#fff" transform="translate(353.46,423.09) rotate(315)"/>
<circle cx="353.46" cy="423.09" r="2.42" fill="#e2355a"/>
<circle cx="353.81" cy="423.09" r="1.21" fill="#e79ac0"/>
<polygon points="389.5,414.2 391.8,411.9 409.8,411.9 407.5,414.2" fill="#05aef0"/>
<polygon points="407.5,414.2 409.8,411.9 409.8,429.5 407.5,431.8" fill="#04608f"/>
<rect x="389.5" y="414.2" width="18.0" height="17.600000000000023" fill="#1794d4"/>
<path d="M389.5,414.5 H407.05 V431.8" fill="none" stroke="#66caf4" stroke-width="0.9"/>
<path d="M389.9,431.8 V414.59999999999997" fill="none" stroke="#5cc4f2" stroke-width="0.8"/>
<path d="M0,-0.53 H6.46 V-1.29 L8.02,0 L6.46,1.29 V0.53 H0 Z" fill="#0a3e5c" fill-opacity="0.45" transform="translate(398.27,422.89) rotate(0)"/>
<path d="M0,-0.53 H6.38 V-1.49 L8.02,0 L6.38,1.49 V0.53 H0 Z" fill="#0a3e5c" fill-opacity="0.45" transform="translate(398.27,422.89) rotate(45)"/>
<path d="M0,-0.53 H6.46 V-1.29 L8.02,0 L6.46,1.29 V0.53 H0 Z" fill="#0a3e5c" fill-opacity="0.45" transform="translate(398.27,422.89) rotate(90)"/>
<path d="M0,-0.53 H6.38 V-1.49 L8.02,0 L6.38,1.49 V0.53 H0 Z" fill="#0a3e5c" fill-opacity="0.45" transform="translate(398.27,422.89) rotate(135)"/>
<path d="M0,-0.53 H6.46 V-1.29 L8.02,0 L6.46,1.29 V0.53 H0 Z" fill="#0a3e5c" fill-opacity="0.45" transform="translate(398.27,422.89) rotate(180)"/>
<path d="M0,-0.53 H6.38 V-1.49 L8.02,0 L6.38,1.49 V0.53 H0 Z" fill="#0a3e5c" fill-opacity="0.45" transform="translate(398.27,422.89) rotate(225)"/>
<path d="M0,-0.53 H6.46 V-1.29 L8.02,0 L6.46,1.29 V0.53 H0 Z" fill="#0a3e5c" fill-opacity="0.45" transform="translate(398.27,422.89) rotate(270)"/>
<path d="M0,-0.53 H6.38 V-1.49 L8.02,0 L6.38,1.49 V0.53 H0 Z" fill="#0a3e5c" fill-opacity="0.45" transform="translate(398.27,422.89) rotate(315)"/>
<path d="M0,-0.53 H6.46 V-1.29 L8.02,0 L6.46,1.29 V0.53 H0 Z" fill="#fff" transform="translate(398.41,423.09) rotate(0)"/>
<path d="M0,-0.53 H6.38 V-1.49 L8.02,0 L6.38,1.49 V0.53 H0 Z" fill="#fff" transform="translate(398.41,423.09) rotate(45)"/>
<path d="M0,-0.53 H6.46 V-1.29 L8.02,0 L6.46,1.29 V0.53 H0 Z" fill="#fff" transform="translate(398.41,423.09) rotate(90)"/>
<path d="M0,-0.53 H6.38 V-1.49 L8.02,0 L6.38,1.49 V0.53 H0 Z" fill="#fff" transform="translate(398.41,423.09) rotate(135)"/>
<path d="M0,-0.53 H6.46 V-1.29 L8.02,0 L6.46,1.29 V0.53 H0 Z" fill="#fff" transform="translate(398.41,423.09) rotate(180)"/>
<path d="M0,-0.53 H6.38 V-1.49 L8.02,0 L6.38,1.49 V0.53 H0 Z" fill="#fff" transform="translate(398.41,423.09) rotate(225)"/>
<path d="M0,-0.53 H6.46 V-1.29 L8.02,0 L6.46,1.29 V0.53 H0 Z" fill="#fff" transform="translate(398.41,423.09) rotate(270)"/>
<path d="M0,-0.53 H6.38 V-1.49 L8.02,0 L6.38,1.49 V0.53 H0 Z" fill="#fff" transform="translate(398.41,423.09) rotate(315)"/>
<circle cx="398.41" cy="423.09" r="2.43" fill="#e2355a"/>
<circle cx="398.76" cy="423.09" r="1.22" fill="#e79ac0"/>
<rect x="364.8" y="419.45" width="24.69999999999999" height="2.7" fill="#cccccc"/>
<line x1="364.8" y1="419.45" x2="389.5" y2="419.45" stroke="#3a3a3a" stroke-width="1"/>
<line x1="364.8" y1="422.15000000000003" x2="389.5" y2="422.15000000000003" stroke="#3a3a3a" stroke-width="1"/>
<ellipse cx="378.4" cy="422.4" rx="2.7" ry="8.2" fill="#fff" stroke="#000" stroke-width="1"/>
<path d="M292.3,478.31 V484.99 A18.799999999999983,5.009999999999996 0 0 0 329.9,484.99 V478.31 Z" fill="#0577aa"/>
<ellipse cx="311.1" cy="478.31" rx="18.799999999999983" ry="5.009999999999996" fill="#05b0f5"/>
<path d="M292.6,478.31 A18.499999999999982,5.009999999999996 0 0 0 329.59999999999997,478.31" fill="none" stroke="#7fd6fa" stroke-width="0.6"/>
<polygon points="299.07,475.00 301.70,474.50 306.96,475.81 310.35,476.51 310.72,477.21 310.35,477.81 302.83,478.11 304.90,476.96" fill="#fff"/>
<polygon points="314.11,478.06 312.04,477.26 316.93,475.60 314.86,474.60 322.38,474.60 324.07,476.31 320.88,476.46" fill="#fff"/>
<polygon points="308.09,478.56 310.16,479.36 305.27,481.02 307.34,482.02 299.82,482.02 298.13,480.31 301.32,480.16" fill="#fff"/>
<polygon points="323.13,481.62 320.50,482.12 315.24,480.81 311.85,480.11 311.48,479.41 311.85,478.81 319.37,478.51 317.30,479.66" fill="#fff"/>
<path d="M337.9,478.31 V484.99 A18.850000000000023,5.009999999999996 0 0 0 375.6,484.99 V478.31 Z" fill="#0577aa"/>
<ellipse cx="356.75" cy="478.31" rx="18.850000000000023" ry="5.009999999999996" fill="#05b0f5"/>
<path d="M338.2,478.31 A18.550000000000022,5.009999999999996 0 0 0 375.3,478.31" fill="none" stroke="#7fd6fa" stroke-width="0.6"/>
<polygon points="344.69,475.00 347.32,474.50 352.60,475.81 356.00,476.51 356.37,477.21 356.00,477.81 348.46,478.11 350.53,476.96" fill="#fff"/>
<polygon points="359.77,478.06 357.69,477.26 362.59,475.60 360.52,474.60 368.06,474.60 369.76,476.31 366.55,476.46" fill="#fff"/>
<polygon points="353.73,478.56 355.81,479.36 350.91,481.02 352.98,482.02 345.44,482.02 343.74,480.31 346.95,480.16" fill="#fff"/>
<polygon points="368.81,481.62 366.18,482.12 360.90,480.81 357.50,480.11 357.13,479.41 357.50,478.81 365.04,478.51 362.97,479.66" fill="#fff"/>
<polygon points="479.2,414.2 481.5,411.9 499.8,411.9 497.5,414.2" fill="#05aef0"/>
<polygon points="497.5,414.2 499.8,411.9 499.8,429.5 497.5,431.8" fill="#04608f"/>
<rect x="479.2" y="414.2" width="18.30000000000001" height="17.600000000000023" fill="#1794d4"/>
<path d="M479.2,414.5 H497.05 V431.8" fill="none" stroke="#66caf4" stroke-width="0.9"/>
<path d="M479.59999999999997,431.8 V414.59999999999997" fill="none" stroke="#5cc4f2" stroke-width="0.8"/>
<path d="M0,-0.54 H6.56 V-1.31 L8.16,0 L6.56,1.31 V0.54 H0 Z" fill="#0a3e5c" fill-opacity="0.45" transform="translate(488.13,422.89) rotate(0)"/>
<path d="M0,-0.54 H6.48 V-1.51 L8.16,0 L6.48,1.51 V0.54 H0 Z" fill="#0a3e5c" fill-opacity="0.45" transform="translate(488.13,422.89) rotate(45)"/>
<path d="M0,-0.54 H6.56 V-1.31 L8.16,0 L6.56,1.31 V0.54 H0 Z" fill="#0a3e5c" fill-opacity="0.45" transform="translate(488.13,422.89) rotate(90)"/>
<path d="M0,-0.54 H6.48 V-1.51 L8.16,0 L6.48,1.51 V0.54 H0 Z" fill="#0a3e5c" fill-opacity="0.45" transform="translate(488.13,422.89) rotate(135)"/>
<path d="M0,-0.54 H6.56 V-1.31 L8.16,0 L6.56,1.31 V0.54 H0 Z" fill="#0a3e5c" fill-opacity="0.45" transform="translate(488.13,422.89) rotate(180)"/>
<path d="M0,-0.54 H6.48 V-1.51 L8.16,0 L6.48,1.51 V0.54 H0 Z" fill="#0a3e5c" fill-opacity="0.45" transform="translate(488.13,422.89) rotate(225)"/>
<path d="M0,-0.54 H6.56 V-1.31 L8.16,0 L6.56,1.31 V0.54 H0 Z" fill="#0a3e5c" fill-opacity="0.45" transform="translate(488.13,422.89) rotate(270)"/>
<path d="M0,-0.54 H6.48 V-1.51 L8.16,0 L6.48,1.51 V0.54 H0 Z" fill="#0a3e5c" fill-opacity="0.45" transform="translate(488.13,422.89) rotate(315)"/>
<path d="M0,-0.54 H6.56 V-1.31 L8.16,0 L6.56,1.31 V0.54 H0 Z" fill="#fff" transform="translate(488.27,423.09) rotate(0)"/>
<path d="M0,-0.54 H6.48 V-1.51 L8.16,0 L6.48,1.51 V0.54 H0 Z" fill="#fff" transform="translate(488.27,423.09) rotate(45)"/>
<path d="M0,-0.54 H6.56 V-1.31 L8.16,0 L6.56,1.31 V0.54 H0 Z" fill="#fff" transform="translate(488.27,423.09) rotate(90)"/>
<path d="M0,-0.54 H6.48 V-1.51 L8.16,0 L6.48,1.51 V0.54 H0 Z" fill="#fff" transform="translate(488.27,423.09) rotate(135)"/>
<path d="M0,-0.54 H6.56 V-1.31 L8.16,0 L6.56,1.31 V0.54 H0 Z" fill="#fff" transform="translate(488.27,423.09) rotate(180)"/>
<path d="M0,-0.54 H6.48 V-1.51 L8.16,0 L6.48,1.51 V0.54 H0 Z" fill="#fff" transform="translate(488.27,423.09) rotate(225)"/>
<path d="M0,-0.54 H6.56 V-1.31 L8.16,0 L6.56,1.31 V0.54 H0 Z" fill="#fff" transform="translate(488.27,423.09) rotate(270)"/>
<path d="M0,-0.54 H6.48 V-1.51 L8.16,0 L6.48,1.51 V0.54 H0 Z" fill="#fff" transform="translate(488.27,423.09) rotate(315)"/>
<circle cx="488.27" cy="423.09" r="2.47" fill="#e2355a"/>
<circle cx="488.62" cy="423.09" r="1.24" fill="#e79ac0"/>
<polygon points="526.8,414.2 529.0999999999999,411.9 547.2,411.9 544.9000000000001,414.2" fill="#05aef0"/>
<polygon points="544.9000000000001,414.2 547.2,411.9 547.2,429.5 544.9000000000001,431.8" fill="#04608f"/>
<rect x="526.8" y="414.2" width="18.100000000000136" height="17.600000000000023" fill="#1794d4"/>
<path d="M526.8,414.5 H544.45 V431.8" fill="none" stroke="#66caf4" stroke-width="0.9"/>
<path d="M527.1999999999999,431.8 V414.59999999999997" fill="none" stroke="#5cc4f2" stroke-width="0.8"/>
<path d="M0,-0.53 H6.49 V-1.30 L8.07,0 L6.49,1.30 V0.53 H0 Z" fill="#0a3e5c" fill-opacity="0.45" transform="translate(535.62,422.89) rotate(0)"/>
<path d="M0,-0.53 H6.41 V-1.50 L8.07,0 L6.41,1.50 V0.53 H0 Z" fill="#0a3e5c" fill-opacity="0.45" transform="translate(535.62,422.89) rotate(45)"/>
<path d="M0,-0.53 H6.49 V-1.30 L8.07,0 L6.49,1.30 V0.53 H0 Z" fill="#0a3e5c" fill-opacity="0.45" transform="translate(535.62,422.89) rotate(90)"/>
<path d="M0,-0.53 H6.41 V-1.50 L8.07,0 L6.41,1.50 V0.53 H0 Z" fill="#0a3e5c" fill-opacity="0.45" transform="translate(535.62,422.89) rotate(135)"/>
<path d="M0,-0.53 H6.49 V-1.30 L8.07,0 L6.49,1.30 V0.53 H0 Z" fill="#0a3e5c" fill-opacity="0.45" transform="translate(535.62,422.89) rotate(180)"/>
<path d="M0,-0.53 H6.41 V-1.50 L8.07,0 L6.41,1.50 V0.53 H0 Z" fill="#0a3e5c" fill-opacity="0.45" transform="translate(535.62,422.89) rotate(225)"/>
<path d="M0,-0.53 H6.49 V-1.30 L8.07,0 L6.49,1.30 V0.53 H0 Z" fill="#0a3e5c" fill-opacity="0.45" transform="translate(535.62,422.89) rotate(270)"/>
<path d="M0,-0.53 H6.41 V-1.50 L8.07,0 L6.41,1.50 V0.53 H0 Z" fill="#0a3e5c" fill-opacity="0.45" transform="translate(535.62,422.89) rotate(315)"/>
<path d="M0,-0.53 H6.49 V-1.30 L8.07,0 L6.49,1.30 V0.53 H0 Z" fill="#fff" transform="translate(535.76,423.09) rotate(0)"/>
<path d="M0,-0.53 H6.41 V-1.50 L8.07,0 L6.41,1.50 V0.53 H0 Z" fill="#fff" transform="translate(535.76,423.09) rotate(45)"/>
<path d="M0,-0.53 H6.49 V-1.30 L8.07,0 L6.49,1.30 V0.53 H0 Z" fill="#fff" transform="translate(535.76,423.09) rotate(90)"/>
<path d="M0,-0.53 H6.41 V-1.50 L8.07,0 L6.41,1.50 V0.53 H0 Z" fill="#fff" transform="translate(535.76,423.09) rotate(135)"/>
<path d="M0,-0.53 H6.49 V-1.30 L8.07,0 L6.49,1.30 V0.53 H0 Z" fill="#fff" transform="translate(535.76,423.09) rotate(180)"/>
<path d="M0,-0.53 H6.41 V-1.50 L8.07,0 L6.41,1.50 V0.53 H0 Z" fill="#fff" transform="translate(535.76,423.09) rotate(225)"/>
<path d="M0,-0.53 H6.49 V-1.30 L8.07,0 L6.49,1.30 V0.53 H0 Z" fill="#fff" transform="translate(535.76,423.09) rotate(270)"/>
<path d="M0,-0.53 H6.41 V-1.50 L8.07,0 L6.41,1.50 V0.53 H0 Z" fill="#fff" transform="translate(535.76,423.09) rotate(315)"/>
<circle cx="535.76" cy="423.09" r="2.44" fill="#e2355a"/>
<circle cx="536.11" cy="423.09" r="1.22" fill="#e79ac0"/>
<rect x="499.8" y="419.45" width="26.999999999999943" height="2.7" fill="#cccccc"/>
<line x1="499.8" y1="419.45" x2="526.8" y2="419.45" stroke="#3a3a3a" stroke-width="1"/>
<line x1="499.8" y1="422.15000000000003" x2="526.8" y2="422.15000000000003" stroke="#3a3a3a" stroke-width="1"/>
<ellipse cx="513.4" cy="422.4" rx="2.7" ry="8.2" fill="#fff" stroke="#000" stroke-width="1"/>
<path d="M524.0,478.31 V484.99 A18.80000000000001,5.009999999999996 0 0 0 561.6,484.99 V478.31 Z" fill="#0577aa"/>
<ellipse cx="542.8" cy="478.31" rx="18.80000000000001" ry="5.009999999999996" fill="#05b0f5"/>
<path d="M524.3,478.31 A18.50000000000001,5.009999999999996 0 0 0 561.3000000000001,478.31" fill="none" stroke="#7fd6fa" stroke-width="0.6"/>
<polygon points="530.77,475.00 533.40,474.50 538.66,475.81 542.05,476.51 542.42,477.21 542.05,477.81 534.53,478.11 536.60,476.96" fill="#fff"/>
<polygon points="545.81,478.06 543.74,477.26 548.63,475.60 546.56,474.60 554.08,474.60 555.77,476.31 552.58,476.46" fill="#fff"/>
<polygon points="539.79,478.56 541.86,479.36 536.97,481.02 539.04,482.02 531.52,482.02 529.83,480.31 533.02,480.16" fill="#fff"/>
<polygon points="554.83,481.62 552.20,482.12 546.94,480.81 543.55,480.11 543.18,479.41 543.55,478.81 551.07,478.51 549.00,479.66" fill="#fff"/>
<path d="M570.1,478.31 V484.99 A18.849999999999966,5.009999999999996 0 0 0 607.8,484.99 V478.31 Z" fill="#0577aa"/>
<ellipse cx="588.95" cy="478.31" rx="18.849999999999966" ry="5.009999999999996" fill="#05b0f5"/>
<path d="M570.4,478.31 A18.549999999999965,5.009999999999996 0 0 0 607.5,478.31" fill="none" stroke="#7fd6fa" stroke-width="0.6"/>
<polygon points="576.89,475.00 579.53,474.50 584.80,475.81 588.20,476.51 588.57,477.21 588.20,477.81 580.66,478.11 582.73,476.96" fill="#fff"/>
<polygon points="591.97,478.06 589.89,477.26 594.79,475.60 592.72,474.60 600.26,474.60 601.96,476.31 598.75,476.46" fill="#fff"/>
<polygon points="585.93,478.56 588.01,479.36 583.11,481.02 585.18,482.02 577.64,482.02 575.94,480.31 579.15,480.16" fill="#fff"/>
<polygon points="601.01,481.62 598.38,482.12 593.10,480.81 589.70,480.11 589.33,479.41 589.70,478.81 597.24,478.51 595.17,479.66" fill="#fff"/>
<polygon points="749,411.40000000000003 751.3,409.1 769.1,409.1 766.8000000000001,411.40000000000003" fill="#05aef0"/>
<polygon points="766.8000000000001,411.40000000000003 769.1,409.1 769.1,426.8 766.8000000000001,429.1" fill="#04608f"/>
<rect x="749" y="411.40000000000003" width="17.800000000000068" height="17.69999999999999" fill="#1794d4"/>
<path d="M749,411.70000000000005 H766.35 V429.1" fill="none" stroke="#66caf4" stroke-width="0.9"/>
<path d="M749.4,429.1 V411.8" fill="none" stroke="#5cc4f2" stroke-width="0.8"/>
<path d="M0,-0.52 H6.38 V-1.28 L7.93,0 L6.38,1.28 V0.52 H0 Z" fill="#0a3e5c" fill-opacity="0.45" transform="translate(757.67,420.15) rotate(0)"/>
<path d="M0,-0.52 H6.31 V-1.47 L7.93,0 L6.31,1.47 V0.52 H0 Z" fill="#0a3e5c" fill-opacity="0.45" transform="translate(757.67,420.15) rotate(45)"/>
<path d="M0,-0.52 H6.38 V-1.28 L7.93,0 L6.38,1.28 V0.52 H0 Z" fill="#0a3e5c" fill-opacity="0.45" transform="translate(757.67,420.15) rotate(90)"/>
<path d="M0,-0.52 H6.31 V-1.47 L7.93,0 L6.31,1.47 V0.52 H0 Z" fill="#0a3e5c" fill-opacity="0.45" transform="translate(757.67,420.15) rotate(135)"/>
<path d="M0,-0.52 H6.38 V-1.28 L7.93,0 L6.38,1.28 V0.52 H0 Z" fill="#0a3e5c" fill-opacity="0.45" transform="translate(757.67,420.15) rotate(180)"/>
<path d="M0,-0.52 H6.31 V-1.47 L7.93,0 L6.31,1.47 V0.52 H0 Z" fill="#0a3e5c" fill-opacity="0.45" transform="translate(757.67,420.15) rotate(225)"/>
<path d="M0,-0.52 H6.38 V-1.28 L7.93,0 L6.38,1.28 V0.52 H0 Z" fill="#0a3e5c" fill-opacity="0.45" transform="translate(757.67,420.15) rotate(270)"/>
<path d="M0,-0.52 H6.31 V-1.47 L7.93,0 L6.31,1.47 V0.52 H0 Z" fill="#0a3e5c" fill-opacity="0.45" transform="translate(757.67,420.15) rotate(315)"/>
<path d="M0,-0.52 H6.38 V-1.28 L7.93,0 L6.38,1.28 V0.52 H0 Z" fill="#fff" transform="translate(757.81,420.34) rotate(0)"/>
<path d="M0,-0.52 H6.31 V-1.47 L7.93,0 L6.31,1.47 V0.52 H0 Z" fill="#fff" transform="translate(757.81,420.34) rotate(45)"/>
<path d="M0,-0.52 H6.38 V-1.28 L7.93,0 L6.38,1.28 V0.52 H0 Z" fill="#fff" transform="translate(757.81,420.34) rotate(90)"/>
<path d="M0,-0.52 H6.31 V-1.47 L7.93,0 L6.31,1.47 V0.52 H0 Z" fill="#fff" transform="translate(757.81,420.34) rotate(135)"/>
<path d="M0,-0.52 H6.38 V-1.28 L7.93,0 L6.38,1.28 V0.52 H0 Z" fill="#fff" transform="translate(757.81,420.34) rotate(180)"/>
<path d="M0,-0.52 H6.31 V-1.47 L7.93,0 L6.31,1.47 V0.52 H0 Z" fill="#fff" transform="translate(757.81,420.34) rotate(225)"/>
<path d="M0,-0.52 H6.38 V-1.28 L7.93,0 L6.38,1.28 V0.52 H0 Z" fill="#fff" transform="translate(757.81,420.34) rotate(270)"/>
<path d="M0,-0.52 H6.31 V-1.47 L7.93,0 L6.31,1.47 V0.52 H0 Z" fill="#fff" transform="translate(757.81,420.34) rotate(315)"/>
<circle cx="757.81" cy="420.34" r="2.40" fill="#e2355a"/>
<circle cx="758.16" cy="420.34" r="1.20" fill="#e79ac0"/>
<polygon points="788.7,411.40000000000003 791.0,409.1 809.1,409.1 806.8000000000001,411.40000000000003" fill="#05aef0"/>
<polygon points="806.8000000000001,411.40000000000003 809.1,409.1 809.1,426.8 806.8000000000001,429.1" fill="#04608f"/>
<rect x="788.7" y="411.40000000000003" width="18.100000000000023" height="17.69999999999999" fill="#1794d4"/>
<path d="M788.7,411.70000000000005 H806.35 V429.1" fill="none" stroke="#66caf4" stroke-width="0.9"/>
<path d="M789.1,429.1 V411.8" fill="none" stroke="#5cc4f2" stroke-width="0.8"/>
<path d="M0,-0.53 H6.49 V-1.30 L8.07,0 L6.49,1.30 V0.53 H0 Z" fill="#0a3e5c" fill-opacity="0.45" transform="translate(797.52,420.14) rotate(0)"/>
<path d="M0,-0.53 H6.41 V-1.50 L8.07,0 L6.41,1.50 V0.53 H0 Z" fill="#0a3e5c" fill-opacity="0.45" transform="translate(797.52,420.14) rotate(45)"/>
<path d="M0,-0.53 H6.49 V-1.30 L8.07,0 L6.49,1.30 V0.53 H0 Z" fill="#0a3e5c" fill-opacity="0.45" transform="translate(797.52,420.14) rotate(90)"/>
<path d="M0,-0.53 H6.41 V-1.50 L8.07,0 L6.41,1.50 V0.53 H0 Z" fill="#0a3e5c" fill-opacity="0.45" transform="translate(797.52,420.14) rotate(135)"/>
<path d="M0,-0.53 H6.49 V-1.30 L8.07,0 L6.49,1.30 V0.53 H0 Z" fill="#0a3e5c" fill-opacity="0.45" transform="translate(797.52,420.14) rotate(180)"/>
<path d="M0,-0.53 H6.41 V-1.50 L8.07,0 L6.41,1.50 V0.53 H0 Z" fill="#0a3e5c" fill-opacity="0.45" transform="translate(797.52,420.14) rotate(225)"/>
<path d="M0,-0.53 H6.49 V-1.30 L8.07,0 L6.49,1.30 V0.53 H0 Z" fill="#0a3e5c" fill-opacity="0.45" transform="translate(797.52,420.14) rotate(270)"/>
<path d="M0,-0.53 H6.41 V-1.50 L8.07,0 L6.41,1.50 V0.53 H0 Z" fill="#0a3e5c" fill-opacity="0.45" transform="translate(797.52,420.14) rotate(315)"/>
<path d="M0,-0.53 H6.49 V-1.30 L8.07,0 L6.49,1.30 V0.53 H0 Z" fill="#fff" transform="translate(797.66,420.34) rotate(0)"/>
<path d="M0,-0.53 H6.41 V-1.50 L8.07,0 L6.41,1.50 V0.53 H0 Z" fill="#fff" transform="translate(797.66,420.34) rotate(45)"/>
<path d="M0,-0.53 H6.49 V-1.30 L8.07,0 L6.49,1.30 V0.53 H0 Z" fill="#fff" transform="translate(797.66,420.34) rotate(90)"/>
<path d="M0,-0.53 H6.41 V-1.50 L8.07,0 L6.41,1.50 V0.53 H0 Z" fill="#fff" transform="translate(797.66,420.34) rotate(135)"/>
<path d="M0,-0.53 H6.49 V-1.30 L8.07,0 L6.49,1.30 V0.53 H0 Z" fill="#fff" transform="translate(797.66,420.34) rotate(180)"/>
<path d="M0,-0.53 H6.41 V-1.50 L8.07,0 L6.41,1.50 V0.53 H0 Z" fill="#fff" transform="translate(797.66,420.34) rotate(225)"/>
<path d="M0,-0.53 H6.49 V-1.30 L8.07,0 L6.49,1.30 V0.53 H0 Z" fill="#fff" transform="translate(797.66,420.34) rotate(270)"/>
<path d="M0,-0.53 H6.41 V-1.50 L8.07,0 L6.41,1.50 V0.53 H0 Z" fill="#fff" transform="translate(797.66,420.34) rotate(315)"/>
<circle cx="797.66" cy="420.34" r="2.44" fill="#e2355a"/>
<circle cx="798.01" cy="420.34" r="1.22" fill="#e79ac0"/>
<line x1="769.1" y1="416.9" x2="788.7" y2="416.9" stroke="#000" stroke-width="1"/>
<line x1="769.1" y1="419.6" x2="788.7" y2="419.6" stroke="#000" stroke-width="1"/>
<ellipse cx="779" cy="419.7" rx="2.7" ry="8.2" fill="#fff" stroke="#000" stroke-width="1"/>
<path d="M703.1,478.31 V484.99 A18.599999999999966,5.009999999999996 0 0 0 740.3,484.99 V478.31 Z" fill="#0577aa"/>
<ellipse cx="721.7" cy="478.31" rx="18.599999999999966" ry="5.009999999999996" fill="#05b0f5"/>
<path d="M703.4,478.31 A18.299999999999965,5.009999999999996 0 0 0 740.0,478.31" fill="none" stroke="#7fd6fa" stroke-width="0.6"/>
<polygon points="709.80,475.00 712.40,474.50 717.61,475.81 720.96,476.51 721.33,477.21 720.96,477.81 713.52,478.11 715.56,476.96" fill="#fff"/>
<polygon points="724.68,478.06 722.63,477.26 727.47,475.60 725.42,474.60 732.86,474.60 734.53,476.31 731.37,476.46" fill="#fff"/>
<polygon points="718.72,478.56 720.77,479.36 715.93,481.02 717.98,482.02 710.54,482.02 708.87,480.31 712.03,480.16" fill="#fff"/>
<polygon points="733.60,481.62 731.00,482.12 725.79,480.81 722.44,480.11 722.07,479.41 722.44,478.81 729.88,478.51 727.84,479.66" fill="#fff"/>
<path d="M749.0,478.31 V484.99 A18.69999999999999,5.009999999999996 0 0 0 786.4,484.99 V478.31 Z" fill="#0577aa"/>
<ellipse cx="767.7" cy="478.31" rx="18.69999999999999" ry="5.009999999999996" fill="#05b0f5"/>
<path d="M749.3,478.31 A18.399999999999988,5.009999999999996 0 0 0 786.1,478.31" fill="none" stroke="#7fd6fa" stroke-width="0.6"/>
<polygon points="755.73,475.00 758.35,474.50 763.59,475.81 766.95,476.51 767.33,477.21 766.95,477.81 759.47,478.11 761.53,476.96" fill="#fff"/>
<polygon points="770.69,478.06 768.63,477.26 773.50,475.60 771.44,474.60 778.92,474.60 780.60,476.31 777.42,476.46" fill="#fff"/>
<polygon points="764.71,478.56 766.77,479.36 761.90,481.02 763.96,482.02 756.48,482.02 754.80,480.31 757.98,480.16" fill="#fff"/>
<polygon points="779.67,481.62 777.05,482.12 771.81,480.81 768.45,480.11 768.07,479.41 768.45,478.81 775.93,478.51 773.87,479.66" fill="#fff"/>
<text transform="translate(79.2,46.2) scale(0.64,1)" font-family="'Liberation Serif','Noto Sans CJK SC',sans-serif" font-size="23.6" font-weight="bold" fill="#000">XXX</text>
<text transform="translate(112.6,44.9) scale(1.623,1)" font-family="'Liberation Serif','Noto Sans CJK SC',sans-serif" font-weight="900" font-size="13.8" fill="#000">运营商省市县三级</text>
<text transform="translate(107.9,71.8) scale(1.623,1)" font-family="'Liberation Serif','Noto Sans CJK SC',sans-serif" font-weight="900" font-size="13.8" fill="#000">网络拓扑示意图</text>
<text x="60.5" y="162" font-family="'Liberation Sans','Noto Sans CJK SC',sans-serif" font-weight="bold" font-size="12.5" letter-spacing="0.5" fill="#000">省总公司</text>
<text x="61.5" y="307" font-family="'Liberation Sans','Noto Sans CJK SC',sans-serif" font-weight="bold" font-size="12.5" letter-spacing="0.5" fill="#000">市公司</text>
<text x="32.8" y="466.3" font-family="'Liberation Sans','Noto Sans CJK SC',sans-serif" font-weight="bold" font-size="12.5" letter-spacing="0.7" fill="#000">区县分公司</text>
<text transform="translate(417.6,17.3) scale(1,1.22)" font-family="'DejaVu Sans',sans-serif" font-size="15" fill="#868686">↵</text>
<text y="314.0" font-family="'Liberation Sans',sans-serif" font-size="11.04" font-weight="bold" fill="#000" style="white-space:pre"><tspan x="383.0">……………</tspan><tspan x="439.4">……………</tspan><tspan x="494.9">……</tspan></text>
<text y="481.1" font-family="'Liberation Sans',sans-serif" font-size="11.04" font-weight="bold" fill="#000" style="white-space:pre"><tspan x="217.7">……</tspan><tspan x="240.6">………</tspan></text>
<text y="480.1" font-family="'Liberation Sans',sans-serif" font-size="11.04" font-weight="bold" fill="#000" style="white-space:pre"><tspan x="624.6">…</tspan><tspan x="636.7">…………</tspan></text>
</svg>
</body>
</html>
